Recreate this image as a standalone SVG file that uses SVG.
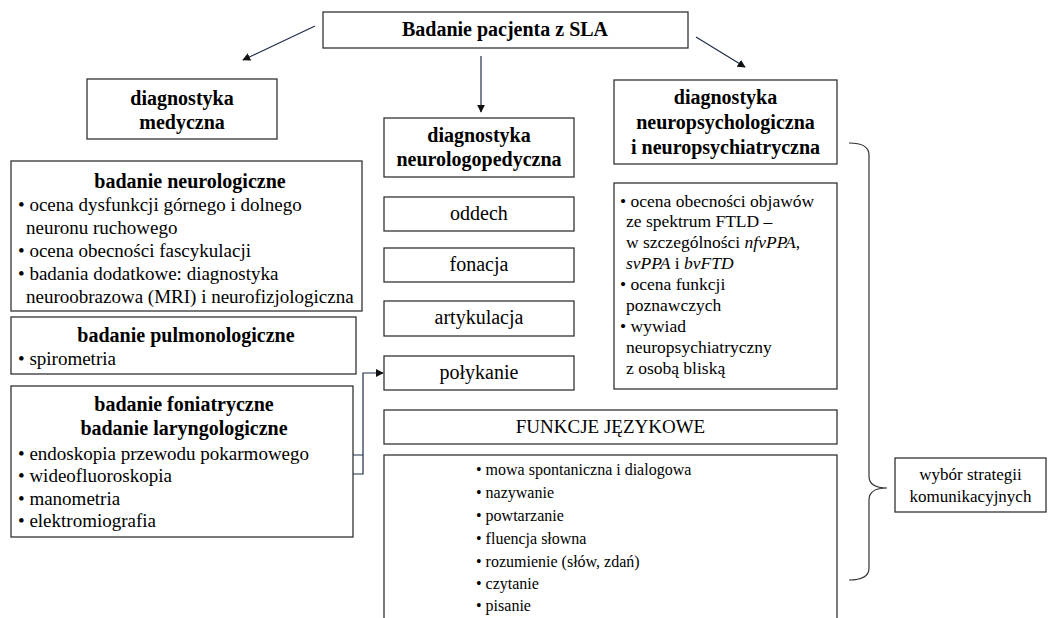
<svg xmlns="http://www.w3.org/2000/svg" width="1050" height="618" viewBox="0 0 1050 618">
<style>
.box{fill:#fff;stroke:#333;stroke-width:1.3}
text{font-family:"Liberation Serif","Times New Roman",serif;fill:#000}
.h{font-weight:bold;font-size:20px;text-anchor:middle}
.lbl{font-size:20px;text-anchor:middle}
.fk{font-size:19px;text-anchor:middle}
.b19{font-size:19px}
.b18{font-size:17.5px}
.b16{font-size:16px}
.w{font-size:17px;text-anchor:middle}
.arr{stroke:#1f2d4a;stroke-width:1.2;fill:none}
</style>
<defs>
<marker id="ah" viewBox="0 0 10 10" refX="9" refY="5" markerWidth="8" markerHeight="8" orient="auto" markerUnits="userSpaceOnUse">
<path d="M0,0 L10,5 L0,10 z" fill="#111"/>
</marker>
</defs>
<g id="connectors">
<line class="arr" x1="315" y1="26" x2="243" y2="60" marker-end="url(#ah)"/>
<line class="arr" x1="696" y1="37" x2="745" y2="67" marker-end="url(#ah)"/>
<line class="arr" x1="481" y1="56" x2="481" y2="112" marker-end="url(#ah)"/>
<polyline class="arr" points="323,455 363,455"/>
<polyline class="arr" points="220,474 363,474 363,373 383,373" marker-end="url(#ah)"/>
<path d="M849,143 Q869,143 869,155 L869,476 Q869,488 887,488 Q869,488 869,500 L869,568 Q869,580 849,580" fill="none" stroke="#333" stroke-width="1.2"/>
</g>
<g id="top">
<rect class="box" x="323" y="12" width="365" height="36"/>
<text class="h" x="505" y="36">Badanie pacjenta z SLA</text>
</g>
<g id="medyczna">
<rect class="box" x="87" y="79" width="190" height="60"/>
<text class="h" x="182" y="105">diagnostyka</text>
<text class="h" x="182" y="129">medyczna</text>
</g>
<g id="neurologopedyczna">
<rect class="box" x="384" y="118" width="190" height="59"/>
<text class="h" x="479" y="142">diagnostyka</text>
<text class="h" x="479" y="166">neurologopedyczna</text>
</g>
<g id="neuropsych">
<rect class="box" x="614" y="80" width="223" height="84"/>
<text class="h" x="725.5" y="104">diagnostyka</text>
<text class="h" x="725.5" y="129">neuropsychologiczna</text>
<text class="h" x="725.5" y="154">i neuropsychiatryczna</text>
</g>
<g id="neurologiczne">
<rect class="box" x="11" y="161" width="351" height="150"/>
<text class="h" x="190" y="188">badanie neurologiczne</text>
<text class="b19" x="18" y="211">• ocena dysfunkcji górnego i dolnego</text>
<text class="b19" x="26" y="234">neuronu ruchowego</text>
<text class="b19" x="18" y="257">• ocena obecności fascykulacji</text>
<text class="b19" x="18" y="280">• badania dodatkowe: diagnostyka</text>
<text class="b19" x="26" y="303">neuroobrazowa (MRI) i neurofizjologiczna</text>
</g>
<g id="pulmonologiczne">
<rect class="box" x="11" y="317" width="345" height="57"/>
<text class="h" x="186" y="342">badanie pulmonologiczne</text>
<text class="b19" x="18" y="365">• spirometria</text>
</g>
<g id="foniatryczne">
<rect class="box" x="11" y="386" width="342" height="151"/>
<text class="h" x="184" y="411">badanie foniatryczne</text>
<text class="h" x="184" y="435">badanie laryngologiczne</text>
<text class="b19" x="18" y="460">• endoskopia przewodu pokarmowego</text>
<text class="b19" x="18" y="482">• wideofluoroskopia</text>
<text class="b19" x="18" y="505">• manometria</text>
<text class="b19" x="18" y="527">• elektromiografia</text>
</g>
<g id="oddech">
<rect class="box" x="384" y="197" width="190" height="34"/>
<text class="lbl" x="479" y="220">oddech</text>
</g>
<g id="fonacja">
<rect class="box" x="384" y="248" width="190" height="34"/>
<text class="lbl" x="479" y="271">fonacja</text>
</g>
<g id="artykulacja">
<rect class="box" x="384" y="301" width="190" height="35"/>
<text class="lbl" x="479" y="324">artykulacja</text>
</g>
<g id="polykanie">
<rect class="box" x="384" y="356" width="190" height="34"/>
<text class="lbl" x="479" y="379">połykanie</text>
</g>
<g id="neuropsych-lista">
<rect class="box" x="614" y="183" width="223" height="206"/>
<text class="b18" x="620" y="207">• ocena obecności objawów</text>
<text class="b18" x="626" y="227">ze spektrum FTLD –</text>
<text class="b18" x="626" y="248">w szczególności <tspan font-style="italic">nfvPPA</tspan>,</text>
<text class="b18" x="626" y="269"><tspan font-style="italic">svPPA</tspan> i <tspan font-style="italic">bvFTD</tspan></text>
<text class="b18" x="620" y="290">• ocena funkcji</text>
<text class="b18" x="626" y="311">poznawczych</text>
<text class="b18" x="620" y="332">• wywiad</text>
<text class="b18" x="626" y="353">neuropsychiatryczny</text>
<text class="b18" x="626" y="374">z osobą bliską</text>
</g>
<g id="funkcje">
<rect class="box" x="384" y="410" width="453" height="34"/>
<text class="fk" x="610.5" y="433">FUNKCJE JĘZYKOWE</text>
</g>
<g id="funkcje-lista">
<rect class="box" x="384" y="455" width="453" height="170"/>
<text class="b16" x="476" y="475">• mowa spontaniczna i dialogowa</text>
<text class="b16" x="476" y="498">• nazywanie</text>
<text class="b16" x="476" y="521">• powtarzanie</text>
<text class="b16" x="476" y="544">• fluencja słowna</text>
<text class="b16" x="476" y="567">• rozumienie (słów, zdań)</text>
<text class="b16" x="476" y="589">• czytanie</text>
<text class="b16" x="476" y="611">• pisanie</text>
</g>
<g id="wybor">
<rect class="box" x="895" y="458" width="151" height="54"/>
<text class="w" x="970.5" y="480">wybór strategii</text>
<text class="w" x="970.5" y="502">komunikacyjnych</text>
</g>
</svg>
